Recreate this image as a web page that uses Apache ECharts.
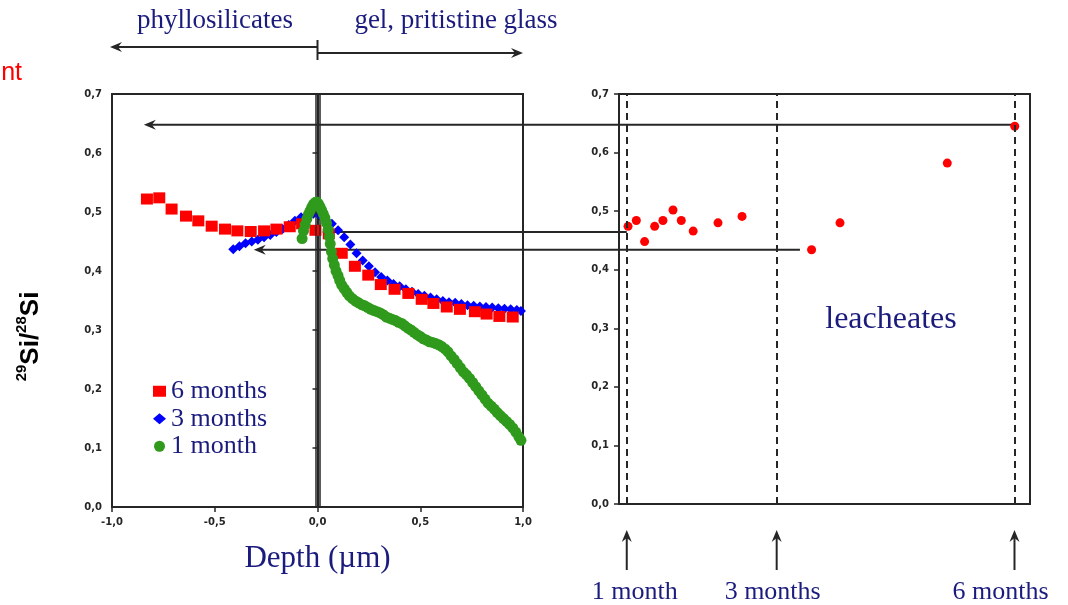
<!DOCTYPE html>
<html>
<head>
<meta charset="utf-8">
<script src="https://cdn.jsdelivr.net/npm/echarts@6/dist/echarts.min.js"></script>
<style>
  html, body { margin: 0; padding: 0; background: #fff; }
  #c { width: 1068px; height: 605px; }
</style>
</head>
<body>
<div id="c"></div>
<script>
// 29Si/28Si depth profiles (depth in µm)
const depth6m = [-0.83, -0.77, -0.71, -0.64, -0.58, -0.515, -0.45, -0.39, -0.325, -0.26, -0.2, -0.135, -0.075,
  -0.01, 0.055, 0.118, 0.182, 0.247, 0.308, 0.375, 0.442, 0.507, 0.564, 0.629, 0.693, 0.766, 0.823, 0.885, 0.95];
const ratio6m = [0.522, 0.524, 0.505, 0.493, 0.485, 0.476, 0.471, 0.468, 0.467, 0.468, 0.471, 0.475, 0.480,
  0.469, 0.463, 0.430, 0.408, 0.393, 0.377, 0.369, 0.362, 0.352, 0.345, 0.339, 0.335, 0.331, 0.327, 0.323, 0.322];

const depth3m = [-0.41, -0.38, -0.35, -0.32, -0.29, -0.26, -0.23, -0.2, -0.17, -0.14, -0.11, -0.08, -0.05, -0.02,
  0.01, 0.04, 0.07, 0.1, 0.13, 0.16, 0.19, 0.22, 0.25, 0.28, 0.31, 0.34, 0.37, 0.4, 0.43, 0.46, 0.49, 0.52, 0.55,
  0.58, 0.61, 0.64, 0.67, 0.7, 0.73, 0.76, 0.79, 0.82, 0.85, 0.88, 0.91, 0.94, 0.97, 0.99];
const ratio3m = [0.437, 0.442, 0.447, 0.450, 0.453, 0.457, 0.461, 0.466, 0.471, 0.478, 0.485, 0.491, 0.495, 0.497,
  0.494, 0.487, 0.480, 0.469, 0.457, 0.445, 0.430, 0.418, 0.408, 0.398, 0.390, 0.384, 0.378, 0.374, 0.369, 0.365,
  0.361, 0.358, 0.355, 0.352, 0.349, 0.347, 0.346, 0.344, 0.342, 0.341, 0.340, 0.339, 0.338, 0.337, 0.336, 0.335,
  0.334, 0.332];

const depth1m = [-0.075, -0.068, -0.06, -0.052, -0.044, -0.036, -0.028, -0.02, -0.012, -0.004, 0.004, 0.012, 0.02,
  0.028, 0.036, 0.044, 0.052, 0.058, 0.062, 0.068, 0.074, 0.082, 0.09, 0.1, 0.108, 0.118, 0.13, 0.142, 0.155, 0.17,
  0.185, 0.2, 0.215, 0.23, 0.245, 0.26, 0.275, 0.29, 0.305, 0.32, 0.335, 0.35, 0.365, 0.38, 0.395, 0.41, 0.425,
  0.44, 0.455, 0.47, 0.485, 0.5, 0.515, 0.53, 0.545, 0.56, 0.575, 0.59, 0.605, 0.62, 0.635, 0.65, 0.665, 0.68,
  0.695, 0.71, 0.725, 0.74, 0.755, 0.77, 0.785, 0.8, 0.815, 0.83, 0.845, 0.86, 0.875, 0.89, 0.905, 0.92, 0.935,
  0.95, 0.965, 0.98, 0.99];
const ratio1m = [0.455, 0.468, 0.478, 0.488, 0.496, 0.502, 0.508, 0.513, 0.516, 0.517, 0.514, 0.509, 0.503, 0.497,
  0.490, 0.481, 0.470, 0.458, 0.446, 0.433, 0.421, 0.410, 0.400, 0.392, 0.384, 0.376, 0.370, 0.364, 0.358, 0.353,
  0.349, 0.346, 0.343, 0.341, 0.338, 0.335, 0.333, 0.331, 0.329, 0.326, 0.322, 0.320, 0.318, 0.316, 0.313, 0.311,
  0.307, 0.303, 0.300, 0.296, 0.292, 0.289, 0.285, 0.283, 0.280, 0.279, 0.277, 0.275, 0.272, 0.268, 0.263, 0.256,
  0.250, 0.243, 0.236, 0.229, 0.224, 0.218, 0.211, 0.204, 0.197, 0.190, 0.183, 0.176, 0.171, 0.166, 0.160, 0.155,
  0.150, 0.145, 0.140, 0.134, 0.127, 0.119, 0.113];

// leachate ratios against leaching time (days)
const leachDays = [30.5, 33.7, 36.9, 40.8, 44.0, 47.9, 51.1, 55.7, 65.3, 74.6, 101.5, 112.5, 154.0, 180.1];
const leachRatio = [0.474, 0.484, 0.448, 0.474, 0.484, 0.502, 0.484, 0.466, 0.480, 0.491, 0.434, 0.480, 0.582, 0.645];

// sampling times of the glass profiles
const sampleDays = [30, 88, 180];
const sampleLabels = ['1 month', '3 months', '6 months'];
const seriesNames = ['6 months', '3 months', '1 month'];

// leachate ratio carried back onto the depth profile: [ratio, from day, to depth]
const transfers = [[0.648, 180, -0.845], [0.466, 30, 0.02], [0.436, 97, -0.31]];

const navy = '#1b1b7e';
const ink = '#262626';
const serif = 'Liberation Serif';
const comma = v => v.toFixed(1).replace('.', ',');
const pair = (xs, ys) => xs.map((x, i) => [x, ys[i]]);

const tickLabel = { fontFamily: 'DejaVu Sans', fontWeight: 'bold', fontSize: 10, color: ink, formatter: comma };
const yAxisBase = {
  type: 'value', min: 0, max: 0.7, interval: 0.1,
  axisLine: { show: true, lineStyle: { color: ink, width: 2 } },
  axisTick: { show: true, length: 5, lineStyle: { color: ink, width: 1.5 } },
  axisLabel: Object.assign({ margin: 10 }, tickLabel),
  splitLine: { show: false }
};

const chart = echarts.init(document.getElementById('c'), null, { renderer: 'canvas' });

chart.setOption({
  animation: false,
  backgroundColor: '#fff',
  grid: [
    { left: 112, top: 94, width: 411, height: 413, show: true, borderColor: ink, borderWidth: 2, backgroundColor: 'transparent' },
    { left: 619, top: 94, width: 411, height: 410, show: true, borderColor: ink, borderWidth: 2, backgroundColor: 'transparent' }
  ],
  xAxis: [
    {
      gridIndex: 0, type: 'value', min: -1, max: 1, interval: 0.5,
      axisLine: { show: true, onZero: false, lineStyle: { color: ink, width: 2 } },
      axisTick: { show: true, length: 5, lineStyle: { color: ink, width: 1.5 } },
      axisLabel: Object.assign({ margin: 10 }, tickLabel),
      splitLine: { show: false },
      name: 'Depth (µm)', nameLocation: 'middle', nameGap: 36,
      nameTextStyle: { fontFamily: serif, fontSize: 31, color: navy }
    },
    {
      gridIndex: 1, type: 'value', min: 27, max: 186,
      axisLine: { show: true, onZero: false, lineStyle: { color: ink, width: 2 } },
      axisTick: { show: false }, axisLabel: { show: false }, splitLine: { show: false }
    }
  ],
  yAxis: [
    Object.assign({}, yAxisBase, {
      gridIndex: 0,
      name: '{s|29}{b|Si/}{s|28}{b|Si}', nameLocation: 'middle', nameRotate: 90, nameGap: 68,
      nameTextStyle: {
        padding: [0, 72, 0, 0],
        rich: {
          b: { fontFamily: 'Liberation Sans', fontWeight: 'bold', fontSize: 26, color: '#000', lineHeight: 30, verticalAlign: 'bottom' },
          s: { fontFamily: 'Liberation Sans', fontWeight: 'bold', fontSize: 15, color: '#000', lineHeight: 30, verticalAlign: 'top' }
        }
      }
    }),
    Object.assign({}, yAxisBase, { gridIndex: 1 })
  ],
  legend: {
    data: seriesNames, orient: 'vertical', left: 148, top: 373,
    itemWidth: 13, itemHeight: 11, itemGap: 1, selectedMode: false,
    textStyle: { fontFamily: serif, fontSize: 26, color: navy, lineHeight: 26.5 }
  },
  series: [
    {
      name: '3 months', type: 'scatter', xAxisIndex: 0, yAxisIndex: 0,
      symbol: 'diamond', symbolSize: 10, itemStyle: { color: '#0000ff', opacity: 1 },
      data: pair(depth3m, ratio3m), z: 3,
      markLine: {
        silent: true, symbol: 'none', label: { show: false },
        lineStyle: { color: ink, width: 1.5, type: 'solid' },
        data: [{ xAxis: -0.011 }, { xAxis: 0.011 }]
      }
    },
    {
      name: '6 months', type: 'scatter', xAxisIndex: 0, yAxisIndex: 0,
      symbol: 'rect', symbolSize: [12, 11], itemStyle: { color: '#ff0000', opacity: 1 },
      data: pair(depth6m, ratio6m), z: 4
    },
    {
      name: '1 month', type: 'scatter', xAxisIndex: 0, yAxisIndex: 0,
      symbol: 'circle', symbolSize: 11, itemStyle: { color: '#2f9a1c', opacity: 1 },
      data: pair(depth1m, ratio1m), z: 5
    },
    {
      name: 'leachates', type: 'scatter', xAxisIndex: 1, yAxisIndex: 1,
      symbol: 'circle', symbolSize: 9, itemStyle: { color: '#ff0000', opacity: 1 },
      data: pair(leachDays, leachRatio), z: 4,
      markLine: {
        silent: true, symbol: 'none', label: { show: false },
        lineStyle: { color: ink, width: 2, type: [7, 5] },
        data: sampleDays.map(d => ({ xAxis: d }))
      }
    }
  ]
});

// annotations placed through the axes' own scales
const L = v => chart.convertToPixel({ xAxisIndex: 0, yAxisIndex: 0 }, v);
const R = v => chart.convertToPixel({ xAxisIndex: 1, yAxisIndex: 1 }, v);
const stroke = { stroke: ink, lineWidth: 2 };
const g = [];

function headLeft(x, y) {
  g.push({ type: 'polygon', shape: { points: [[x, y], [x + 12, y - 5], [x + 8, y], [x + 12, y + 5]] }, style: { fill: ink } });
}
function headRight(x, y) {
  g.push({ type: 'polygon', shape: { points: [[x, y], [x - 12, y - 5], [x - 8, y], [x - 12, y + 5]] }, style: { fill: ink } });
}
function headUp(x, y) {
  g.push({ type: 'polygon', shape: { points: [[x, y], [x - 5, y + 12], [x, y + 8], [x + 5, y + 12]] }, style: { fill: ink } });
}

// horizontal arrows from the leachate panel to the depth profile
transfers.forEach(([r, day, d]) => {
  const y = L([0, r])[1];
  const xr = R([day, r])[0];
  const xl = L([d, r])[0];
  g.push({ type: 'line', shape: { x1: xr, y1: y, x2: xl + 6, y2: y }, style: stroke });
  headLeft(xl, y);
});

// zone arrows above the depth profile
const x0 = L([0, 0])[0], xm = L([-1, 0])[0], xp = L([1, 0])[0];
g.push({ type: 'line', shape: { x1: x0, y1: 47, x2: xm + 4, y2: 47 }, style: stroke });
headLeft(xm - 2, 47);
g.push({ type: 'line', shape: { x1: x0, y1: 53, x2: xp - 4, y2: 53 }, style: stroke });
headRight(xp, 53);
g.push({ type: 'line', shape: { x1: x0, y1: 40, x2: x0, y2: 60 }, style: stroke });
g.push({ type: 'text', x: 215, y: 21, style: { text: 'phyllosilicates', font: '27px "Liberation Serif"', fill: navy, align: 'center', verticalAlign: 'middle' } });
g.push({ type: 'text', x: 456, y: 21, style: { text: 'gel, pritistine glass', font: '27px "Liberation Serif"', fill: navy, align: 'center', verticalAlign: 'middle' } });

// sampling time arrows below the leachate panel
const labelShift = [8, -4, -14];
sampleDays.forEach((d, i) => {
  const x = R([d, 0])[0];
  g.push({ type: 'line', shape: { x1: x, y1: 570, x2: x, y2: 538 }, style: stroke });
  headUp(x, 530);
  g.push({ type: 'text', x: x + labelShift[i], y: 592, style: { text: sampleLabels[i], font: '26px "Liberation Serif"', fill: navy, align: 'center', verticalAlign: 'middle' } });
});

g.push({ type: 'text', x: 891, y: 320, style: { text: 'leacheates', font: '32px "Liberation Serif"', fill: navy, align: 'center', verticalAlign: 'middle' } });
g.push({ type: 'text', x: 22, y: 73, style: { text: 'nt', font: '25px "Liberation Sans"', fill: '#ff0000', align: 'right', verticalAlign: 'middle' } });

chart.setOption({ graphic: g });
</script>
</body>
</html>
